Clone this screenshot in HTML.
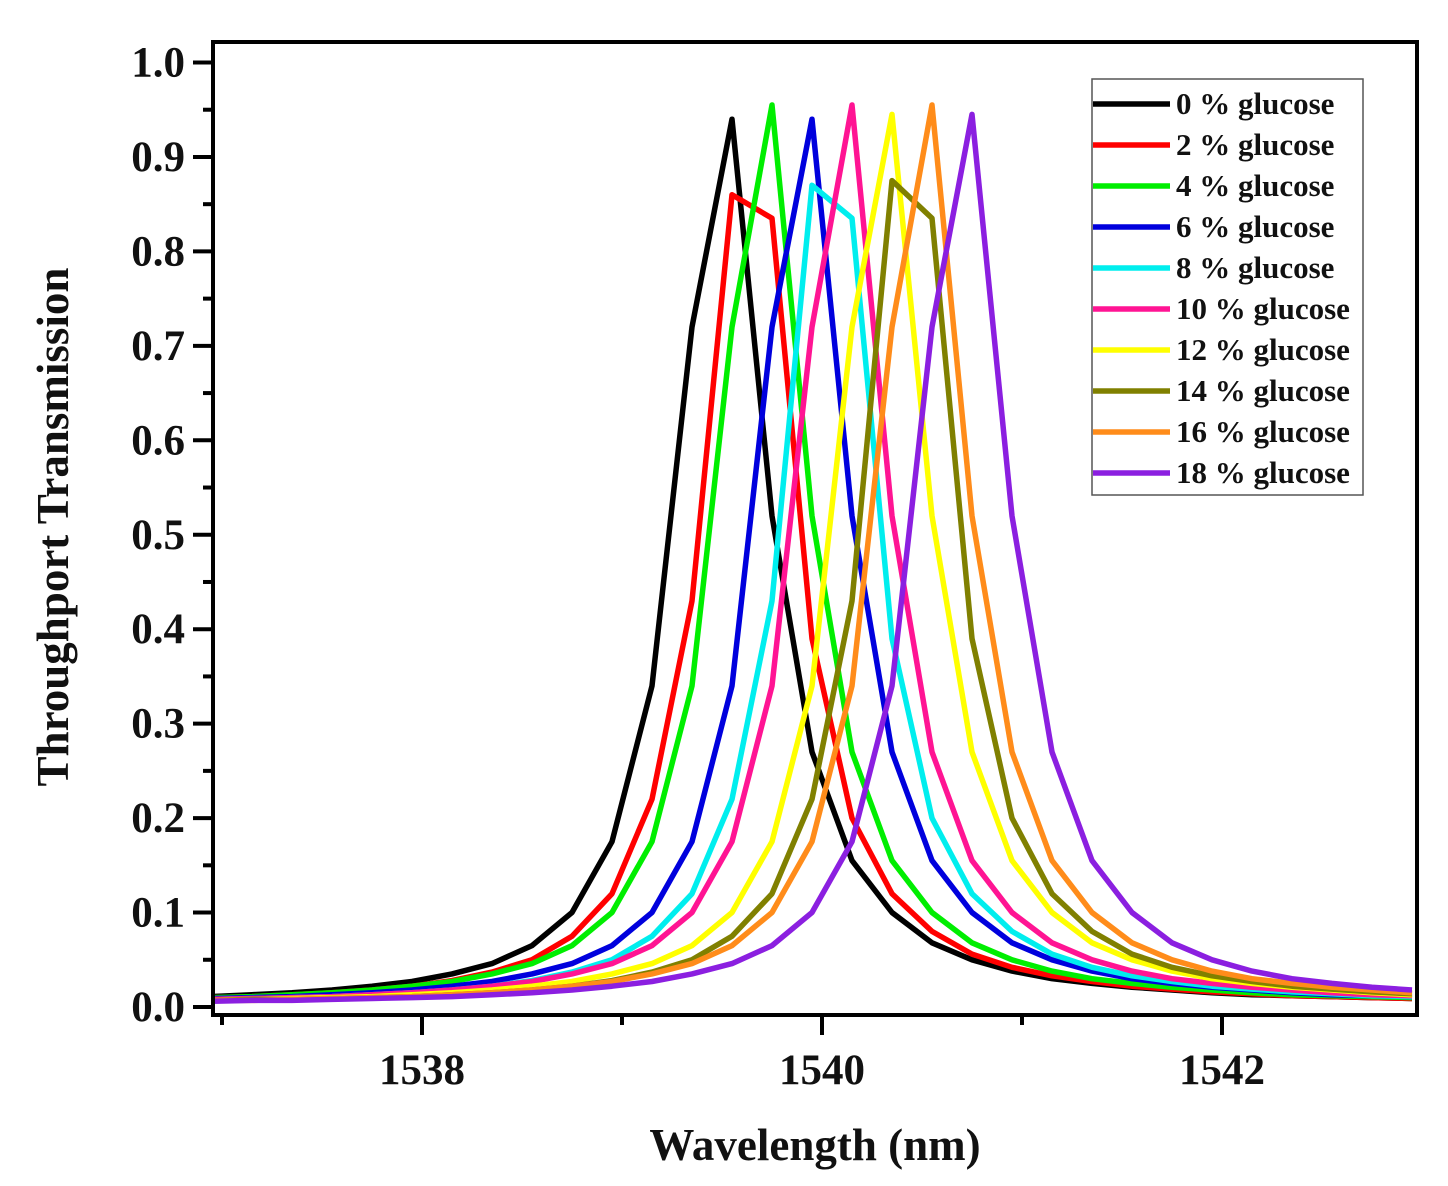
<!DOCTYPE html>
<html><head><meta charset="utf-8"><style>
html,body{margin:0;padding:0;background:#fff;}
svg{display:block;}
text{font-family:"Liberation Serif",serif;font-weight:bold;fill:#111;}
</style></head><body>
<svg id="chart" width="1448" height="1186" viewBox="0 0 1448 1186" xmlns="http://www.w3.org/2000/svg">
<g id="series"></g>
<rect x="213" y="42" width="1204" height="973" fill="none" stroke="#000" stroke-width="4"/>
<g id="axes"></g>
<g id="legend"></g>
<text x="815" y="1160" font-size="45" text-anchor="middle">Wavelength (nm)</text>
<text x="0" y="0" font-size="45" text-anchor="middle" transform="translate(68,527) rotate(-90)">Throughport Transmission</text>
</svg>
<script>
const wavelengths = [1536.95,1537.15,1537.35,1537.55,1537.75,1537.95,1538.15,1538.35,1538.55,1538.75,1538.95,1539.15,1539.35,1539.55,1539.75,1539.95,1540.15,1540.35,1540.55,1540.75,1540.95,1541.15,1541.35,1541.55,1541.75,1541.95,1542.15,1542.35,1542.55,1542.75,1542.95];
const seriesNames = ["0 % glucose","2 % glucose","4 % glucose","6 % glucose","8 % glucose","10 % glucose","12 % glucose","14 % glucose","16 % glucose","18 % glucose"];
const seriesColors = ["#000000","#ff0000","#00ee00","#0000dd","#00eeee","#ff1493","#ffff00","#808000","#ff8c1a","#8b1fe0"];
const s0 = [0.011,0.013,0.015,0.018,0.022,0.027,0.035,0.046,0.065,0.10,0.175,0.34,0.72,0.94,0.52,0.27,0.155,0.10,0.068,0.05,0.038,0.03,0.025,0.021,0.018,0.015,0.013,0.012,0.011,0.010,0.009];
const s2 = [0.010,0.011,0.013,0.015,0.018,0.022,0.028,0.037,0.05,0.075,0.12,0.22,0.43,0.86,0.835,0.39,0.2,0.12,0.08,0.056,0.042,0.033,0.027,0.022,0.019,0.016,0.014,0.012,0.011,0.010,0.009];
const s4 = [0.010,0.011,0.013,0.015,0.018,0.022,0.027,0.035,0.046,0.065,0.10,0.175,0.34,0.72,0.955,0.52,0.27,0.155,0.10,0.068,0.05,0.038,0.03,0.025,0.021,0.018,0.015,0.013,0.012,0.011,0.010];
const s6 = [0.009,0.010,0.011,0.013,0.015,0.018,0.022,0.027,0.035,0.046,0.065,0.10,0.175,0.34,0.72,0.94,0.52,0.27,0.155,0.10,0.068,0.05,0.038,0.03,0.025,0.021,0.018,0.015,0.013,0.012,0.011];
const s8 = [0.008,0.009,0.010,0.011,0.013,0.015,0.018,0.022,0.028,0.037,0.05,0.075,0.12,0.22,0.43,0.87,0.835,0.39,0.2,0.12,0.08,0.056,0.042,0.033,0.027,0.022,0.019,0.016,0.014,0.012,0.011];
const s10 = [0.008,0.009,0.010,0.011,0.013,0.015,0.018,0.022,0.027,0.035,0.046,0.065,0.10,0.175,0.34,0.72,0.955,0.52,0.27,0.155,0.10,0.068,0.05,0.038,0.03,0.025,0.021,0.018,0.015,0.013,0.012];
const s12 = [0.007,0.008,0.009,0.010,0.011,0.013,0.015,0.018,0.022,0.027,0.035,0.046,0.065,0.10,0.175,0.34,0.72,0.945,0.52,0.27,0.155,0.10,0.068,0.05,0.038,0.03,0.025,0.021,0.018,0.015,0.013];
const s14 = [0.007,0.008,0.008,0.009,0.010,0.011,0.013,0.015,0.018,0.022,0.028,0.037,0.05,0.075,0.12,0.22,0.43,0.875,0.835,0.39,0.2,0.12,0.08,0.056,0.042,0.033,0.027,0.022,0.019,0.016,0.014];
const s16 = [0.007,0.007,0.008,0.009,0.010,0.011,0.013,0.015,0.018,0.022,0.027,0.035,0.046,0.065,0.10,0.175,0.34,0.72,0.955,0.52,0.27,0.155,0.10,0.068,0.05,0.038,0.03,0.025,0.021,0.018,0.015];
const s18 = [0.006,0.007,0.007,0.008,0.009,0.010,0.011,0.013,0.015,0.018,0.022,0.027,0.035,0.046,0.065,0.10,0.175,0.34,0.72,0.945,0.52,0.27,0.155,0.10,0.068,0.05,0.038,0.03,0.025,0.021,0.018];
const allSeries = [s0,s2,s4,s6,s8,s10,s12,s14,s16,s18];
const yTickLabels = ["0.0","0.1","0.2","0.3","0.4","0.5","0.6","0.7","0.8","0.9","1.0"];
const xTickLabels = ["1538","1540","1542"];
const xMinorTicks = [1537,1539,1541,1543];

const NS = "http://www.w3.org/2000/svg";
const X0 = 213, X1 = 1417, Y0 = 42, Y1 = 1015;
function xs(w){ return 422 + (w - 1538) * 200; }
function ys(v){ return 1007 - v * 944.5; }
function mk(tag, attrs, parent){ const e = document.createElementNS(NS, tag); for (const k in attrs) e.setAttribute(k, attrs[k]); parent.appendChild(e); return e; }

const sg = document.getElementById('series');
const clip = mk('clipPath', {id:'pc'}, sg);
mk('rect', {x:X0, y:Y0, width:X1-X0, height:Y1-Y0}, clip);
allSeries.forEach((vals, i) => {
  const d = vals.map((v, j) => (j ? 'L' : 'M') + xs(wavelengths[j]).toFixed(1) + ',' + ys(v).toFixed(1)).join(' ');
  const p = mk('path', {d:d, fill:'none', stroke:seriesColors[i], 'stroke-width':5.5, 'stroke-linejoin':'round', 'clip-path':'url(#pc)'}, sg);
  
  
});

const ax = document.getElementById('axes');
yTickLabels.forEach((lab) => {
  const v = parseFloat(lab), y = ys(v);
  const t = mk('line', {x1:X0-20, x2:X0, y1:y, y2:y, stroke:'#000', 'stroke-width':4}, ax);
  
  
  const tx = mk('text', {x:X0-28, y:y+14, 'font-size':43, 'text-anchor':'end'}, ax);
  tx.textContent = lab;
  
  
  if (v < 1) {
    const ym = ys(v + 0.05);
    const m = mk('line', {x1:X0-10, x2:X0, y1:ym, y2:ym, stroke:'#000', 'stroke-width':4}, ax);
    
    
  }
});
xTickLabels.forEach((lab) => {
  const x = xs(parseFloat(lab));
  const t = mk('line', {x1:x, x2:x, y1:Y1, y2:Y1+20, stroke:'#000', 'stroke-width':4}, ax);
  
  
  const tx = mk('text', {x:x, y:1084, 'font-size':43, 'text-anchor':'middle'}, ax);
  tx.textContent = lab;
  
  
});
xMinorTicks.forEach((w) => {
  const x = xs(w);
  if (x > X1 + 2) return;
  const m = mk('line', {x1:x, x2:x, y1:Y1, y2:Y1+10, stroke:'#000', 'stroke-width':4}, ax);
  
  
});

const lg = document.getElementById('legend');
const box = mk('rect', {x:1092, y:79, width:271, height:416, fill:'#fff', stroke:'#555', 'stroke-width':1.5}, lg);


seriesNames.forEach((nm, i) => {
  const y = 104 + i * 41;
  const l = mk('line', {x1:1093, x2:1170, y1:y, y2:y, stroke:seriesColors[i], 'stroke-width':5.5}, lg);
  
  
  const t = mk('text', {x:1176, y:y+10, 'font-size':31}, lg);
  t.textContent = nm;
  
  
});
</script>
</body></html>
